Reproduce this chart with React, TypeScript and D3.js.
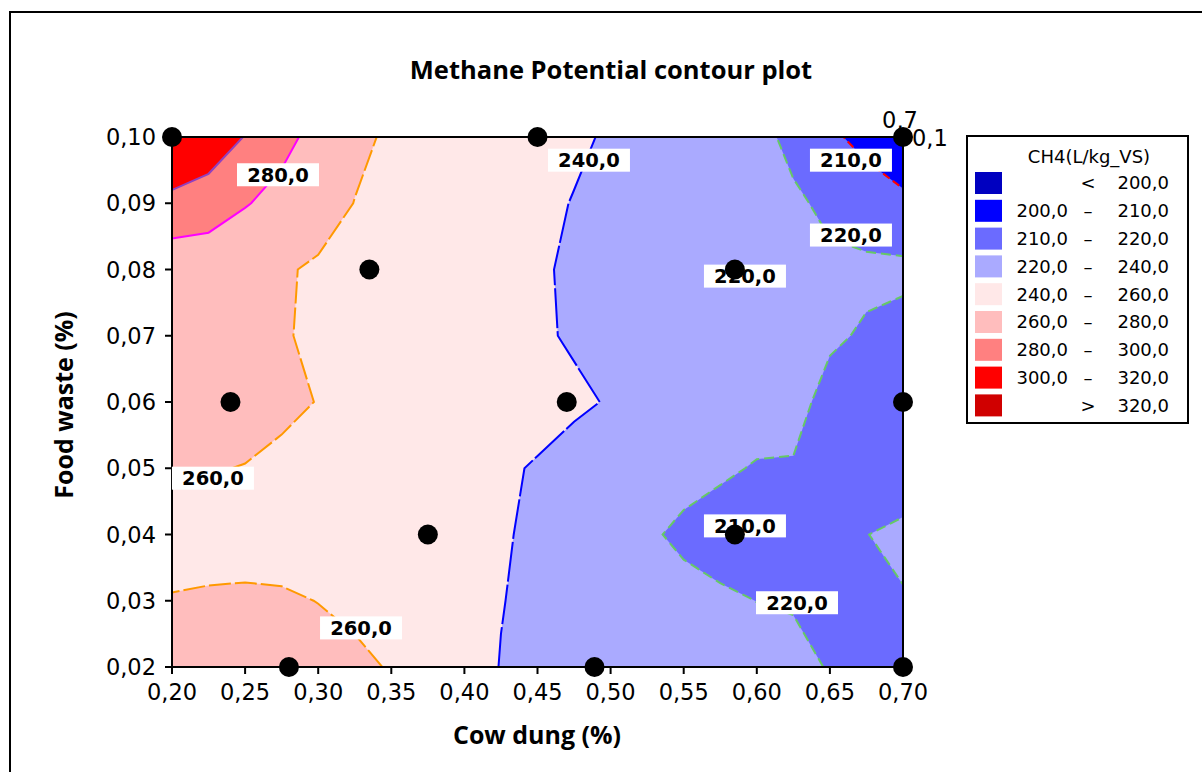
import React, { useMemo } from 'react';
import * as d3 from 'd3';

// ---------- data ----------
const xGrid = [0.2, 0.225, 0.25, 0.275, 0.3, 0.325, 0.35, 0.375, 0.4, 0.425, 0.45, 0.475, 0.5, 0.525, 0.55, 0.575, 0.6, 0.625, 0.65, 0.675, 0.7];
const yGrid = [0.10, 0.09, 0.08, 0.07, 0.06, 0.05, 0.04, 0.03, 0.02];

const ch4Row010 = [312, 310, 299.4, 285.6, 273.8, 263.3, 257.8, 254.7, 251.5, 248.4, 245.2, 242.0, 238.6, 234.6, 230.6, 226.6, 222.6, 217.8, 211.7, 207.1, 203];
const ch4Row009 = [297, 292, 281.2, 273.9, 266.7, 259.7, 256.4, 253.0, 249.6, 246.2, 242.8, 239.5, 236.5, 233.5, 230.4, 227.4, 224.4, 221.3, 218.3, 215.1, 212];
const ch4Row008 = [265, 265, 264, 261.5, 258.1, 255.3, 252.6, 249.8, 247.0, 244.2, 241.4, 238.3, 234.9, 231.4, 228, 223, 221, 221.2, 221.5, 221.8, 222];
const ch4Row007 = [266, 267, 265.3, 261, 257.9, 255.2, 252.4, 249.7, 247.0, 244.2, 241.5, 238.8, 236.3, 233.8, 231.3, 228.8, 226.3, 223.8, 221.3, 219.0, 217];
const ch4Row006 = [266, 266.3, 266.5, 263, 259.6, 257.1, 254.6, 252.0, 249.5, 247.0, 244.4, 241.9, 239.2, 235.6, 232.1, 228.5, 225.0, 223, 217, 216.3, 214];
const ch4Row005 = [262, 260.9, 259.5, 256.9, 254.4, 251.9, 249.4, 246.8, 244.3, 241.8, 239.0, 235.5, 232.1, 228.6, 225.1, 221.7, 219.2, 219.3, 216.1, 214.5, 213];
const ch4Row004 = [253, 254, 254.5, 255, 254.5, 253.5, 252, 248.5, 245, 241.5, 237.2, 232.2, 227.2, 222.2, 217, 215, 213, 214.5, 217, 219.8, 222.5];
const ch4Row003 = [261, 261.8, 262.1, 261.4, 259.8, 255.9, 252.0, 248.1, 244.3, 240.4, 237.2, 234.1, 231.0, 228.0, 224.9, 221.8, 219.9, 219.5, 217.5, 217.5, 219.2];
const ch4Row002 = [264, 264.6, 265.3, 266, 264.2, 264, 258.7, 252.1, 245.5, 239.6, 237.4, 235.2, 232.9, 230.7, 228.5, 226.3, 224.0, 221.8, 219.6, 217.3, 215];

const bandThresholds = [0, 200, 210, 220, 240, 260, 280, 300, 320];
const bandColors = ['#0000C0', '#0000FF', '#6B6BFF', '#AAAAFF', '#FFE8E8', '#FFBDBD', '#FF8080', '#FF0000', '#D00000'];
const legendLow = ['', '200,0', '210,0', '220,0', '240,0', '260,0', '280,0', '300,0', ''];
const legendSep = ['<', '–', '–', '–', '–', '–', '–', '–', '>'];
const legendHigh = ['200,0', '210,0', '220,0', '240,0', '260,0', '280,0', '300,0', '320,0', '320,0'];

const lineLevels = [210, 220, 240, 260, 280, 300];
const lineColors = ['#FF0000', '#66C866', '#0000FF', '#FF9900', '#FF00FF', '#9040C0'];
const lineDashes = ['8 4', '10 5', '40 3', '22 4', 'none', 'none'];

const labelText = ['280,0', '240,0', '210,0', '220,0', '220,0', '260,0', '210,0', '220,0', '260,0'];
const labelX = [0.2725, 0.4852, 0.6644, 0.6644, 0.5919, 0.228, 0.5919, 0.6275, 0.3293];
const labelY = [0.0943, 0.0965, 0.0965, 0.0852, 0.079, 0.0485, 0.0413, 0.0297, 0.0259];

const designX = [0.2, 0.45, 0.7, 0.335, 0.585, 0.24, 0.47, 0.7, 0.375, 0.585, 0.28, 0.489, 0.7];
const designY = [0.10, 0.10, 0.10, 0.08, 0.08, 0.06, 0.06, 0.06, 0.04, 0.04, 0.02, 0.02, 0.02];

const xTicks = [0.2, 0.25, 0.3, 0.35, 0.4, 0.45, 0.5, 0.55, 0.6, 0.65, 0.7];
const yTicks = [0.02, 0.03, 0.04, 0.05, 0.06, 0.07, 0.08, 0.09, 0.1];

// ---------- layout ----------
const W = 1202, H = 772;
const left = 172, right = 903, top = 137, bottom = 667;
const TICK_FONT = "'DejaVu Sans', Verdana, sans-serif";
const TITLE_FONT = "'Open Sans', sans-serif";

const fmt = (d: number, p: number) => d.toFixed(p).replace('.', ',');

export default function App() {
  const x = d3.scaleLinear().domain([0.2, 0.7]).range([left, right]);
  const y = d3.scaleLinear().domain([0.02, 0.1]).range([bottom, top]);

  const { fills, lines } = useMemo(() => {
    const rows = [ch4Row010, ch4Row009, ch4Row008, ch4Row007, ch4Row006, ch4Row005, ch4Row004, ch4Row003, ch4Row002];
    const nx = xGrid.length, ny = yGrid.length;
    const values: number[] = [];
    rows.forEach(r => r.forEach(v => values.push(v)));
    const dxs = xGrid[1] - xGrid[0];
    const dys = yGrid[0] - yGrid[1];
    const proj = d3.geoTransform({
      point(gx: number, gy: number) {
        const dxv = xGrid[0] + (gx - 0.5) * dxs;
        const dyv = yGrid[0] - (gy - 0.5) * dys;
        (this as any).stream.point(x(dxv), y(dyv));
      },
    });
    const path = d3.geoPath(proj);
    const gen = d3.contours().size([nx, ny]);
    const fills = bandThresholds.map((t, i) => ({ d: path(gen.contour(values, t) as any) || '', color: bandColors[i] }));
    const lines = lineLevels.map((t, i) => ({ d: path(gen.contour(values, t) as any) || '', color: lineColors[i], dash: lineDashes[i] }));
    return { fills, lines };
  }, []);

  const legX = 967, legY = 136, legW = 221, legH = 287;

  return (
    <svg width={W} height={H} style={{ position: 'absolute', left: 0, top: 0, background: '#fff' }}>
      <rect x={0} y={0} width={W} height={H} fill="#fff" />
      <rect x={10} y={12} width={1200} height={800} fill="none" stroke="#000" strokeWidth={2} />
      <defs>
        <clipPath id="plotClip">
          <rect x={left} y={top} width={right - left} height={bottom - top} />
        </clipPath>
      </defs>
      <text x={611} y={79} textAnchor="middle" fontFamily={TITLE_FONT} fontWeight="bold" fontSize={25.5}>
        Methane Potential contour plot
      </text>
      <g clipPath="url(#plotClip)">
        {fills.map((f, i) => (
          <path key={'f' + i} d={f.d} fill={f.color} stroke="none" />
        ))}
        {lines.map((l, i) => (
          <path key={'l' + i} d={l.d} fill="none" stroke={l.color} strokeWidth={2} strokeDasharray={l.dash} />
        ))}
      </g>
      {/* frame */}
      <line x1={left} x2={right} y1={top} y2={top} stroke="#000" strokeWidth={2} />
      <line x1={right} x2={right} y1={top} y2={bottom} stroke="#000" strokeWidth={2} />
      <line x1={left} x2={left} y1={top} y2={bottom + 1} stroke="#000" strokeWidth={2} />
      <line x1={left - 1} x2={right} y1={bottom} y2={bottom} stroke="#000" strokeWidth={2} />
      {xTicks.map((t, i) => (
        <g key={'xt' + i}>
          <line x1={x(t)} x2={x(t)} y1={bottom} y2={bottom + 7} stroke="#000" strokeWidth={2} />
          <text x={x(t)} y={700} textAnchor="middle" fontFamily={TICK_FONT} fontSize={22.5}>
            {fmt(t, 2)}
          </text>
        </g>
      ))}
      {yTicks.map((t, i) => (
        <g key={'yt' + i}>
          <line x1={left - 7} x2={left} y1={y(t)} y2={y(t)} stroke="#000" strokeWidth={2} />
          <text x={156} y={y(t)} dy="0.36em" textAnchor="end" fontFamily={TICK_FONT} fontSize={22.5}>
            {fmt(t, 2)}
          </text>
        </g>
      ))}
      <text x={537} y={744} textAnchor="middle" fontFamily={TITLE_FONT} fontWeight="bold" fontSize={25}>
        Cow dung (%)
      </text>
      <text transform={`translate(73,${405}) rotate(-90)`} textAnchor="middle" fontFamily={TITLE_FONT} fontWeight="bold" fontSize={25}>
        Food waste (%)
      </text>
      {/* contour labels */}
      {labelText.map((s, i) => (
        <g key={'cl' + i}>
          <rect x={x(labelX[i]) - 41} y={y(labelY[i]) - 11.5} width={82} height={23} fill="#fff" />
          <text x={x(labelX[i])} y={y(labelY[i])} dy="0.36em" textAnchor="middle" fontFamily={TICK_FONT} fontWeight="bold" fontSize={19.5}>
            {s}
          </text>
        </g>
      ))}
      {/* design points */}
      {designX.map((dx, i) => (
        <circle key={'p' + i} cx={x(dx)} cy={y(designY[i])} r={10} fill="#000" />
      ))}
      <text x={900} y={128} textAnchor="middle" fontFamily={TICK_FONT} fontSize={22.5}>0,7</text>
      <text x={912} y={146} textAnchor="start" fontFamily={TICK_FONT} fontSize={22.5}>0,1</text>
      {/* legend */}
      <rect x={legX} y={legY} width={legW} height={legH} fill="#fff" stroke="#000" strokeWidth={2} />
      <text x={1089} y={163} textAnchor="middle" fontFamily={TICK_FONT} fontSize={18}>CH4(L/kg_VS)</text>
      {bandColors.map((c, i) => {
        const cy = 183 + i * 27.8;
        return (
          <g key={'lg' + i}>
            <rect x={975} y={cy - 11} width={27} height={22} fill={c} />
            <text x={1068} y={cy} dy="0.36em" textAnchor="end" fontFamily={TICK_FONT} fontSize={18}>{legendLow[i]}</text>
            <text x={1088} y={cy} dy="0.36em" textAnchor="middle" fontFamily={TICK_FONT} fontSize={18}>{legendSep[i]}</text>
            <text x={1169} y={cy} dy="0.36em" textAnchor="end" fontFamily={TICK_FONT} fontSize={18}>{legendHigh[i]}</text>
          </g>
        );
      })}
    </svg>
  );
}
